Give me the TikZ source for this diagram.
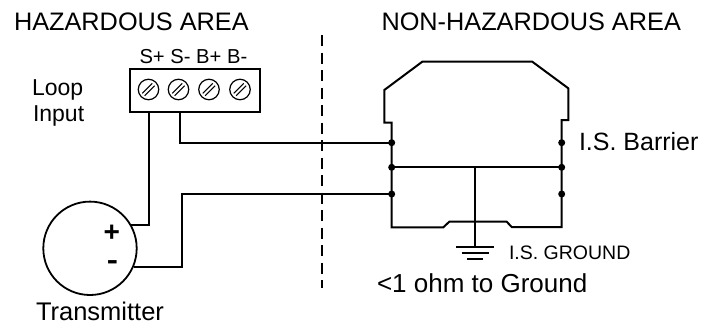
\documentclass[tikz,border=0pt]{standalone}
\usepackage{fontspec}
\setmainfont{Liberation Sans}
\usepackage{graphicx}
\newcommand\tx[3]{\scalebox{#1}[1]{\fontsize{#2}{#2}\selectfont #3}}
\begin{document}
\begin{tikzpicture}[x=1pt,y=-1pt,
  wire/.style={line width=2pt,line join=miter},
  lbl/.style={anchor=base west,inner sep=0pt,outer sep=0pt},
  junction/.style={circle,fill=black,inner sep=0pt,minimum size=7pt},
  screw/.style={circle,draw,line width=1.2pt,inner sep=0pt,minimum size=20.5pt}]
\useasboundingbox (0,0) rectangle (717,325);
% texts
\node[lbl] (haz) at (14,30) {\tx{1.0}{25.3}{HAZARDOUS AREA}};
\node[lbl] (nonhaz) at (381.5,30) {\tx{1.0}{25.3}{NON-HAZARDOUS AREA}};
\node[lbl] (term) at (139.5,63.5) {\tx{1.0}{20.2}{S+ S- B+ B-}};
\node[lbl] (loop) at (32,95) {\tx{1.0}{23}{Loop}};
\node[lbl] (input) at (33,121.5) {\tx{1.0}{23}{Input}};
\node[lbl] (barlbl) at (579,150) {\tx{1.0}{25}{I.S. Barrier}};
\node[lbl] (gndlbl) at (509,259.5) {\tx{1.0}{19.5}{I.S. GROUND}};
\node[lbl] (ohm) at (377,292.5) {\tx{1.0}{26}{<1 ohm to Ground}};
\node[lbl] (trans) at (36,320.5) {\tx{1.0}{25.5}{Transmitter}};
% terminal block
\draw[wire] (130,69) rectangle (260,111.5);
\foreach \i/\cx in {1/148.5,2/178.5,3/209,4/240}{
  \node[screw] (s\i) at (\cx,89.5) {};
  \draw[line width=1pt] ([shift={(-6.2,3.8)}]s\i.center) -- ([shift={(3.8,-6.2)}]s\i.center);
  \draw[line width=1pt] ([shift={(-3.8,6.2)}]s\i.center) -- ([shift={(6.2,-3.8)}]s\i.center);
}
\coordinate (splus) at (149.3,111.5);
\coordinate (sminus) at (180,111.5);
% transmitter
\node[circle,draw,line width=1.8pt,minimum size=93.4pt,inner sep=0pt] (tx) at (90,248.3) {};
\node[inner sep=0pt] (plus) at (111.7,233) {\fontsize{28}{28}\selectfont\bfseries +};
\node[inner sep=0pt] (minus) at (112.5,265.5) {\tx{1.2}{28}{\bfseries -}};
% dashed divider
\draw[line width=2pt,dash pattern=on 11pt off 6.5pt] (321.7,35) -- (321.7,288);
% barrier outline
\draw[wire] (391.7,227.3) -- (391.7,122.7) -- (384.3,122.7) -- (384.3,90) -- (422.3,61.7)
  -- (532.3,61.7) -- (568.3,88.3) -- (568.3,120) -- (561.7,120) -- (561.7,227)
  -- (511.7,227) -- (506.7,221.7) -- (449.3,221.7) -- (443.3,227.3) -- cycle;
\node[junction] (l1) at (391.7,142.7) {};
\node[junction] (l2) at (391.7,167.3) {};
\node[junction] (l3) at (391.7,194) {};
\node[junction] (r1) at (561.7,142.7) {};
\node[junction] (r2) at (561.7,167.3) {};
\node[junction] (r3) at (561.7,194) {};
\draw[wire] (l2.center) -- (r2.center);
\coordinate (gnd) at (475,247.3);
\draw[wire] (475,167.3) -- (gnd);
\draw[wire] ([xshift=-19pt]gnd) -- ([xshift=19pt]gnd);
\draw[wire] ([shift={(-13.5,5.8)}]gnd) -- ([shift={(13.5,5.8)}]gnd);
\draw[wire] ([shift={(-8,11.6)}]gnd) -- ([shift={(8,11.6)}]gnd);
% wires
\draw[wire] (sminus) |- (l1.center);
\draw[wire] (splus) |- (tx.30);
\draw[wire] (tx.-23) -| (182.3,194) -- (l3.center);
\end{tikzpicture}
\end{document}
